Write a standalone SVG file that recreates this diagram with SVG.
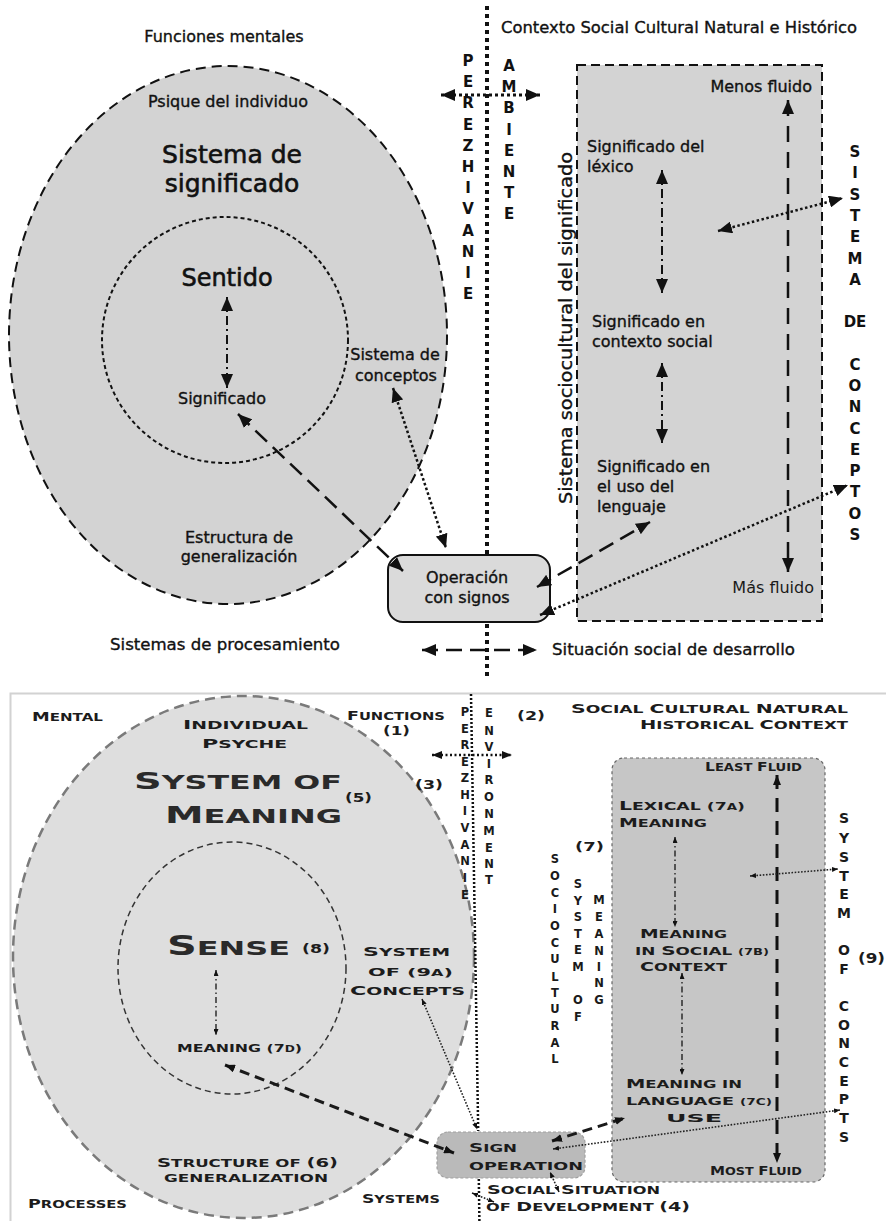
<svg xmlns="http://www.w3.org/2000/svg" width="886" height="1221" viewBox="0 0 886 1221">
  <defs>
    <style>
      .t { font-family: "DejaVu Sans", "Liberation Sans", sans-serif; font-size: 16px; fill: #111; stroke: #111; stroke-width: 0.35px; }
      .tl { font-family: "DejaVu Sans", "Liberation Sans", sans-serif; font-size: 16px; fill: #1a1a1a; }
      .big { font-size: 25px; stroke-width: 0.6px; }
      .mid { font-size: 24px; stroke-width: 0.6px; }
      .rot { font-size: 18px; }
      .vl { font-family: "DejaVu Sans", sans-serif; font-weight: bold; font-size: 15px; fill: #111; text-anchor: middle; }
      .vs { font-family: "DejaVu Sans", sans-serif; font-weight: bold; font-size: 11.5px; fill: #1a1a1a; text-anchor: middle; }
      .vm { font-family: "DejaVu Sans", sans-serif; font-weight: bold; font-size: 14px; fill: #1a1a1a; text-anchor: middle; }
      .sc { font-family: "DejaVu Sans", sans-serif; font-weight: bold; fill: #1c1c1c; }
      .L { font-size: 13px; }
      .S { font-size: 11px; }
      .XS { font-size: 8.5px; }
      .L2 { font-size: 23px; fill: #2a2a2a; }
      .S2 { font-size: 19px; fill: #2a2a2a; }
      .L3 { font-size: 26px; fill: #2a2a2a; }
      .S3 { font-size: 20px; fill: #2a2a2a; }
      .N { font-size: 13px; }
      .ln { fill: none; stroke: #111; }
      .dash { stroke-width: 2.5; stroke-dasharray: 16 8; }
      .dot { stroke-width: 2.5; stroke-dasharray: 2.5 2.5; }
      .dashdot { stroke-width: 2; stroke-dasharray: 9 4 2 4; }
      .bdash { stroke-width: 3; stroke-dasharray: 10 6; stroke: #1a1a1a; }
      .bdot { stroke-width: 1.6; stroke-dasharray: 1.6 1.6; stroke: #222; }
      .bdashdot { stroke-width: 1.4; stroke-dasharray: 6 3 1.5 3; stroke: #222; }
    </style>
    <marker id="ah" viewBox="0 0 14 12" markerWidth="14" markerHeight="12" refX="14" refY="6" orient="auto-start-reverse" markerUnits="userSpaceOnUse">
      <path d="M0,0 L14,6 L0,12 z" fill="#111"/>
    </marker>
    <marker id="ahs" viewBox="0 0 10 8" markerWidth="10" markerHeight="8" refX="10" refY="4" orient="auto-start-reverse" markerUnits="userSpaceOnUse">
      <path d="M0,0 L10,4 L0,8 z" fill="#111"/>
    </marker>
    <marker id="aht" viewBox="0 0 6 5" markerWidth="6" markerHeight="5" refX="6" refY="2.5" orient="auto-start-reverse" markerUnits="userSpaceOnUse">
      <path d="M0,0 L6,2.5 L0,5 z" fill="#111"/>
    </marker>
  </defs>

  <rect width="886" height="1221" fill="#ffffff"/>

  <!-- ===================== Spanish version ===================== -->
  <g id="es-psique">
    <ellipse cx="228" cy="335" rx="219" ry="269" fill="#d3d3d3" stroke="#111" stroke-width="2" stroke-dasharray="10 6"/>
    <text class="t" x="228" y="107" text-anchor="middle">Psique del individuo</text>
    <text class="t big" x="232" y="163" text-anchor="middle">Sistema de</text>
    <text class="t big" x="232" y="192" text-anchor="middle">significado</text>
    <text class="t" x="239" y="543" text-anchor="middle">Estructura de</text>
    <text class="t" x="239" y="562" text-anchor="middle">generalización</text>
  </g>
  <g id="es-sentido">
    <circle cx="225" cy="340" r="123" fill="none" stroke="#111" stroke-width="2" stroke-dasharray="4 3"/>
    <text class="t mid" x="227" y="286" text-anchor="middle">Sentido</text>
    <text class="t" x="222" y="404" text-anchor="middle">Significado</text>
  </g>
  <g id="es-conceptos">
    <text class="t" x="395" y="360" text-anchor="middle">Sistema de</text>
    <text class="t" x="396" y="381" text-anchor="middle">conceptos</text>
  </g>
  <g id="es-operacion">
    <rect x="388" y="555" width="162" height="67" rx="15" fill="#dadada" stroke="#111" stroke-width="2"/>
    <text class="t" x="467" y="583" text-anchor="middle">Operación</text>
    <text class="t" x="467" y="603" text-anchor="middle">con signos</text>
  </g>
  <g id="es-sociocultural">
    <rect x="577" y="65" width="245" height="556" fill="#d3d3d3" stroke="#111" stroke-width="2" stroke-dasharray="9 5"/>
    <text class="t" x="812" y="92" text-anchor="end">Menos fluido</text>
    <text class="t" x="587" y="152">Significado del</text>
    <text class="t" x="587" y="172">léxico</text>
    <text class="t" x="592" y="327">Significado en</text>
    <text class="t" x="592" y="347">contexto social</text>
    <text class="t" x="597" y="472">Significado en</text>
    <text class="t" x="597" y="492">el uso del</text>
    <text class="t" x="597" y="512">lenguaje</text>
    <text class="tl" x="814" y="593" text-anchor="end">Más fluido</text>
    <text class="t rot" transform="translate(572,328) rotate(-90)" text-anchor="middle" textLength="352" lengthAdjust="spacingAndGlyphs">Sistema sociocultural del significado</text>
  </g>
  <g id="es-labels">
    <text class="t" x="224" y="42" text-anchor="middle">Funciones mentales</text>
    <text class="t" x="679" y="33" text-anchor="middle" textLength="356" lengthAdjust="spacingAndGlyphs">Contexto Social Cultural Natural e Histórico</text>
    <text class="t" x="225" y="650" text-anchor="middle" textLength="230" lengthAdjust="spacingAndGlyphs">Sistemas de procesamiento</text>
    <text class="t" x="552" y="655" textLength="243" lengthAdjust="spacingAndGlyphs">Situación social de desarrollo</text>
  </g>
  <g id="es-perezhivanie">
    <text class="vl"><tspan x="468" y="66">P</tspan><tspan x="468" y="87">E</tspan><tspan x="468" y="108">R</tspan><tspan x="468" y="130">E</tspan><tspan x="468" y="151">Z</tspan><tspan x="468" y="172">H</tspan><tspan x="468" y="193">I</tspan><tspan x="468" y="214">V</tspan><tspan x="468" y="236">A</tspan><tspan x="468" y="257">N</tspan><tspan x="468" y="278">I</tspan><tspan x="468" y="299">E</tspan></text>
  </g>
  <g id="es-ambiente">
    <text class="vl"><tspan x="509" y="71">A</tspan><tspan x="509" y="92">M</tspan><tspan x="509" y="113">B</tspan><tspan x="509" y="135">I</tspan><tspan x="509" y="156">E</tspan><tspan x="509" y="177">N</tspan><tspan x="509" y="198">T</tspan><tspan x="509" y="219">E</tspan></text>
  </g>
  <g id="es-sistema-conceptos">
    <text class="vl"><tspan x="855" y="157">S</tspan><tspan x="855" y="178">I</tspan><tspan x="855" y="200">S</tspan><tspan x="855" y="221">T</tspan><tspan x="855" y="242">E</tspan><tspan x="855" y="264">M</tspan><tspan x="855" y="285">A</tspan><tspan x="855" y="327">DE</tspan><tspan x="855" y="370">C</tspan><tspan x="855" y="391">O</tspan><tspan x="855" y="412">N</tspan><tspan x="855" y="434">C</tspan><tspan x="855" y="455">E</tspan><tspan x="855" y="476">P</tspan><tspan x="855" y="497">T</tspan><tspan x="855" y="519">O</tspan><tspan x="855" y="540">S</tspan></text>
  </g>

  <g id="es-connectors">
    <!-- divider, interrupted by the sign-operation box -->
    <line class="ln" x1="487" y1="6" x2="487" y2="554" stroke-width="4" stroke-dasharray="4 4"/>
    <line class="ln" x1="487" y1="624" x2="487" y2="680" stroke-width="4" stroke-dasharray="4 4"/>
    <line class="ln" x1="441" y1="95" x2="540" y2="95" stroke-width="3" stroke-dasharray="3 3" marker-start="url(#ah)" marker-end="url(#ah)"/>
    <line class="ln dashdot" x1="227" y1="297" x2="227" y2="388" marker-start="url(#ah)" marker-end="url(#ah)"/>
    <line class="ln dash" x1="238" y1="414" x2="403" y2="571" marker-start="url(#ah)" marker-end="url(#ah)"/>
    <line class="ln dot" x1="393" y1="388" x2="446" y2="548" marker-start="url(#ah)" marker-end="url(#ah)"/>
    <line class="ln dash" x1="537" y1="587" x2="650" y2="522" marker-start="url(#ah)" marker-end="url(#ah)"/>
    <line class="ln dot" x1="540" y1="615" x2="848" y2="485" marker-start="url(#ah)" marker-end="url(#ah)"/>
    <line class="ln dashdot" x1="662" y1="170" x2="662" y2="293" marker-start="url(#ah)" marker-end="url(#ah)"/>
    <line class="ln dashdot" x1="662" y1="363" x2="662" y2="443" marker-start="url(#ah)" marker-end="url(#ah)"/>
    <line class="ln" x1="788" y1="100" x2="788" y2="572" stroke-width="2.5" stroke-dasharray="16 10" marker-start="url(#ah)" marker-end="url(#ah)"/>
    <line class="ln dot" x1="718" y1="231" x2="843" y2="198" marker-start="url(#ah)" marker-end="url(#ah)"/>
    <line class="ln dash" x1="422" y1="650" x2="537" y2="650" marker-start="url(#ah)" marker-end="url(#ah)"/>
  </g>

  <!-- ===================== English version ===================== -->
  <g id="en-frame">
    <path d="M10.5,1221 V693.5 H886" fill="none" stroke="#d2d2d2" stroke-width="2"/>
  </g>
  <g id="en-psyche">
    <ellipse cx="243.5" cy="957" rx="230.5" ry="261" fill="#dedede" stroke="#7a7a7a" stroke-width="2.5" stroke-dasharray="10 6"/>
    <text class="sc" x="183" y="729" textLength="125" lengthAdjust="spacingAndGlyphs"><tspan class="L">I</tspan><tspan class="S">NDIVIDUAL</tspan></text>
    <text class="sc" x="202" y="748" textLength="85" lengthAdjust="spacingAndGlyphs"><tspan class="L">P</tspan><tspan class="S">SYCHE</tspan></text>
    <text class="sc" x="134" y="789" textLength="208" lengthAdjust="spacingAndGlyphs"><tspan class="L2">S</tspan><tspan class="S2">YSTEM OF</tspan></text>
    <text class="sc" x="165" y="823" textLength="177" lengthAdjust="spacingAndGlyphs"><tspan class="L2">M</tspan><tspan class="S2">EANING</tspan></text>
    <text class="sc N" x="345" y="802" textLength="27" lengthAdjust="spacingAndGlyphs">(5)</text>
    <text class="sc" x="157" y="1167" textLength="181" lengthAdjust="spacingAndGlyphs"><tspan class="L">S</tspan><tspan class="S">TRUCTURE OF  </tspan><tspan class="N">(6)</tspan></text>
    <text class="sc S" x="164" y="1182" textLength="164" lengthAdjust="spacingAndGlyphs">GENERALIZATION</text>
  </g>
  <g id="en-sense">
    <ellipse cx="232" cy="968" rx="114" ry="126" fill="none" stroke="#333" stroke-width="1.5" stroke-dasharray="6 4"/>
    <text class="sc" x="167" y="955" textLength="123" lengthAdjust="spacingAndGlyphs"><tspan class="L3">S</tspan><tspan class="S3">ENSE</tspan></text>
    <text class="sc N" x="302" y="953" textLength="28" lengthAdjust="spacingAndGlyphs">(8)</text>
    <text class="sc" x="177" y="1052" textLength="125" lengthAdjust="spacingAndGlyphs"><tspan class="S">MEANING (7</tspan><tspan class="XS">D</tspan><tspan class="S">)</tspan></text>
  </g>
  <g id="en-concepts">
    <text class="sc" x="363" y="956" textLength="87" lengthAdjust="spacingAndGlyphs"><tspan class="L">S</tspan><tspan class="S">YSTEM</tspan></text>
    <text class="sc" x="368" y="976" textLength="85" lengthAdjust="spacingAndGlyphs"><tspan class="S">OF  (9</tspan><tspan class="XS">A</tspan><tspan class="S">)</tspan></text>
    <text class="sc" x="350" y="995" textLength="115" lengthAdjust="spacingAndGlyphs"><tspan class="L">C</tspan><tspan class="S">ONCEPTS</tspan></text>
  </g>
  <g id="en-sign-operation">
    <rect x="437" y="1132" width="148" height="46" rx="11" fill="#bababa" stroke="#a0a0a0" stroke-width="1.2" stroke-dasharray="3 2"/>
    <text class="sc" x="469" y="1152" textLength="48" lengthAdjust="spacingAndGlyphs"><tspan class="L">S</tspan><tspan class="S">IGN</tspan></text>
    <text class="sc S" x="469" y="1170" textLength="114" lengthAdjust="spacingAndGlyphs">OPERATION</text>
  </g>
  <g id="en-sociocultural">
    <rect x="612" y="758" width="213" height="424" rx="12" fill="#c6c6c6" stroke="#666" stroke-width="1.2" stroke-dasharray="3 3"/>
    <text class="sc" x="705" y="771" textLength="97" lengthAdjust="spacingAndGlyphs"><tspan class="L">L</tspan><tspan class="S">EAST </tspan><tspan class="L">F</tspan><tspan class="S">LUID</tspan></text>
    <text class="sc" x="619" y="810" textLength="126" lengthAdjust="spacingAndGlyphs"><tspan class="L">L</tspan><tspan class="S">EXICAL (7</tspan><tspan class="XS">A</tspan><tspan class="S">)</tspan></text>
    <text class="sc" x="619" y="827" textLength="88" lengthAdjust="spacingAndGlyphs"><tspan class="L">M</tspan><tspan class="S">EANING</tspan></text>
    <text class="sc" x="640" y="938" textLength="87" lengthAdjust="spacingAndGlyphs"><tspan class="L">M</tspan><tspan class="S">EANING</tspan></text>
    <text class="sc" x="635" y="955" textLength="134" lengthAdjust="spacingAndGlyphs"><tspan class="S">IN </tspan><tspan class="L">S</tspan><tspan class="S">OCIAL </tspan><tspan class="XS">(7B)</tspan></text>
    <text class="sc" x="640" y="971" textLength="87" lengthAdjust="spacingAndGlyphs"><tspan class="L">C</tspan><tspan class="S">ONTEXT</tspan></text>
    <text class="sc" x="626" y="1088" textLength="116" lengthAdjust="spacingAndGlyphs"><tspan class="L">M</tspan><tspan class="S">EANING IN</tspan></text>
    <text class="sc" x="626" y="1105" textLength="146" lengthAdjust="spacingAndGlyphs"><tspan class="S">LANGUAGE   </tspan><tspan class="XS">(7C)</tspan></text>
    <text class="sc S" x="666" y="1122" textLength="56" lengthAdjust="spacingAndGlyphs">USE</text>
    <text class="sc" x="710" y="1175" textLength="92" lengthAdjust="spacingAndGlyphs"><tspan class="L">M</tspan><tspan class="S">OST </tspan><tspan class="L">F</tspan><tspan class="S">LUID</tspan></text>
  </g>
  <g id="en-labels">
    <text class="sc" x="32" y="721" textLength="71" lengthAdjust="spacingAndGlyphs"><tspan class="L">M</tspan><tspan class="S">ENTAL</tspan></text>
    <text class="sc" x="347" y="720" textLength="98" lengthAdjust="spacingAndGlyphs"><tspan class="L">F</tspan><tspan class="S">UNCTIONS</tspan></text>
    <text class="sc N" x="383" y="735" textLength="27" lengthAdjust="spacingAndGlyphs">(1)</text>
    <text class="sc N" x="415" y="789" textLength="28" lengthAdjust="spacingAndGlyphs">(3)</text>
    <text class="sc N" x="517" y="720" textLength="28" lengthAdjust="spacingAndGlyphs">(2)</text>
    <text class="sc" x="571" y="713" textLength="277" lengthAdjust="spacingAndGlyphs"><tspan class="L">S</tspan><tspan class="S">OCIAL </tspan><tspan class="L">C</tspan><tspan class="S">ULTURAL </tspan><tspan class="L">N</tspan><tspan class="S">ATURAL</tspan></text>
    <text class="sc" x="640" y="729" textLength="208" lengthAdjust="spacingAndGlyphs"><tspan class="L">H</tspan><tspan class="S">ISTORICAL </tspan><tspan class="L">C</tspan><tspan class="S">ONTEXT</tspan></text>
    <text class="sc N" x="575" y="851" textLength="29" lengthAdjust="spacingAndGlyphs">(7)</text>
    <text class="sc" x="858" y="963" textLength="27" lengthAdjust="spacingAndGlyphs" font-size="14">(9)</text>
    <text class="sc" x="28" y="1208" textLength="99" lengthAdjust="spacingAndGlyphs"><tspan class="L">P</tspan><tspan class="S">ROCESSES</tspan></text>
    <text class="sc" x="362" y="1203" textLength="78" lengthAdjust="spacingAndGlyphs"><tspan class="L">S</tspan><tspan class="S">YSTEMS</tspan></text>
    <text class="sc" x="487" y="1194" textLength="173" lengthAdjust="spacingAndGlyphs"><tspan class="L">S</tspan><tspan class="S">OCIAL </tspan><tspan class="L">S</tspan><tspan class="S">ITUATION</tspan></text>
    <text class="sc" x="486" y="1211" textLength="204" lengthAdjust="spacingAndGlyphs"><tspan class="S">OF </tspan><tspan class="L">D</tspan><tspan class="S">EVELOPMENT </tspan><tspan class="N">(4)</tspan></text>
  </g>
  <g id="en-perezhivanie">
    <text class="vs"><tspan x="465" y="716">P</tspan><tspan x="465" y="733">E</tspan><tspan x="465" y="749">R</tspan><tspan x="465" y="766">E</tspan><tspan x="465" y="782">Z</tspan><tspan x="465" y="799">H</tspan><tspan x="465" y="815">I</tspan><tspan x="465" y="832">V</tspan><tspan x="465" y="849">A</tspan><tspan x="465" y="865">N</tspan><tspan x="465" y="882">I</tspan><tspan x="465" y="899">E</tspan></text>
  </g>
  <g id="en-environment">
    <text class="vs"><tspan x="489" y="717">E</tspan><tspan x="489" y="735">N</tspan><tspan x="489" y="751">V</tspan><tspan x="489" y="768">I</tspan><tspan x="489" y="784">R</tspan><tspan x="489" y="801">O</tspan><tspan x="489" y="818">N</tspan><tspan x="489" y="835">M</tspan><tspan x="489" y="852">E</tspan><tspan x="489" y="868">N</tspan><tspan x="489" y="884">T</tspan></text>
  </g>
  <g id="en-system-of-meaning">
    <text class="vs"><tspan x="555" y="863">S</tspan><tspan x="555" y="880">O</tspan><tspan x="555" y="897">C</tspan><tspan x="555" y="913">I</tspan><tspan x="555" y="930">O</tspan><tspan x="555" y="947">C</tspan><tspan x="555" y="963">U</tspan><tspan x="555" y="981">L</tspan><tspan x="555" y="997">T</tspan><tspan x="555" y="1013">U</tspan><tspan x="555" y="1030">R</tspan><tspan x="555" y="1047">A</tspan><tspan x="555" y="1063">L</tspan></text>
    <text class="vs"><tspan x="578" y="888">S</tspan><tspan x="578" y="905">Y</tspan><tspan x="578" y="921">S</tspan><tspan x="578" y="938">T</tspan><tspan x="578" y="954">E</tspan><tspan x="578" y="971">M</tspan><tspan x="578" y="1004">O</tspan><tspan x="578" y="1021">F</tspan></text>
    <text class="vs"><tspan x="599" y="904">M</tspan><tspan x="599" y="921">E</tspan><tspan x="599" y="938">A</tspan><tspan x="599" y="955">N</tspan><tspan x="599" y="971">I</tspan><tspan x="599" y="987">N</tspan><tspan x="599" y="1004">G</tspan></text>
  </g>
  <g id="en-system-of-concepts">
    <text class="vm"><tspan x="844" y="823">S</tspan><tspan x="844" y="843">Y</tspan><tspan x="844" y="862">S</tspan><tspan x="844" y="881">T</tspan><tspan x="844" y="899">E</tspan><tspan x="844" y="918">M</tspan><tspan x="844" y="955">O</tspan><tspan x="844" y="974">F</tspan><tspan x="844" y="1011">C</tspan><tspan x="844" y="1030">O</tspan><tspan x="844" y="1048">N</tspan><tspan x="844" y="1067">C</tspan><tspan x="844" y="1086">E</tspan><tspan x="844" y="1104">P</tspan><tspan x="844" y="1123">T</tspan><tspan x="844" y="1142">S</tspan></text>
  </g>

  <g id="en-connectors">
    <!-- divider, interrupted by the sign-operation box -->
    <line class="ln" x1="471" y1="694" x2="478.2" y2="1131" stroke-width="2.5" stroke-dasharray="2 2"/>
    <line class="ln" x1="478.8" y1="1179" x2="479.4" y2="1221" stroke-width="2.5" stroke-dasharray="2 2"/>
    <line class="ln" x1="432" y1="755" x2="512" y2="755" stroke-width="2.5" stroke-dasharray="2 2.5" marker-start="url(#ahs)" marker-end="url(#ahs)"/>
    <line class="ln bdashdot" x1="216" y1="970" x2="216" y2="1035" marker-start="url(#aht)" marker-end="url(#aht)"/>
    <line class="ln bdash" x1="225" y1="1065" x2="454" y2="1153" marker-start="url(#ahs)" marker-end="url(#ahs)"/>
    <line class="ln bdot" x1="422" y1="999" x2="477" y2="1129" marker-start="url(#aht)" marker-end="url(#aht)"/>
    <line class="ln bdashdot" x1="675" y1="837" x2="675" y2="927" marker-start="url(#aht)" marker-end="url(#aht)"/>
    <line class="ln bdashdot" x1="682" y1="973" x2="682" y2="1075" marker-start="url(#aht)" marker-end="url(#aht)"/>
    <line class="ln" x1="777" y1="775" x2="777" y2="1163" stroke-width="3" stroke-dasharray="14 9" marker-start="url(#ahs)" marker-end="url(#ahs)"/>
    <line class="ln bdot" x1="750" y1="876" x2="838" y2="869" stroke-width="2" marker-start="url(#aht)" marker-end="url(#aht)"/>
    <line class="ln bdash" x1="552" y1="1141" x2="625" y2="1118" stroke-dasharray="8 5" marker-start="url(#ahs)" marker-end="url(#ahs)"/>
    <line class="ln bdot" x1="553" y1="1149" x2="840" y2="1110" stroke-width="2" marker-start="url(#aht)" marker-end="url(#aht)"/>
    <line class="ln bdot" x1="559" y1="1192" x2="550" y2="1172" marker-start="url(#aht)" marker-end="url(#aht)"/>
    <line class="ln bdot" x1="472" y1="1193" x2="494" y2="1202" marker-start="url(#aht)" marker-end="url(#aht)"/>
  </g>
</svg>
